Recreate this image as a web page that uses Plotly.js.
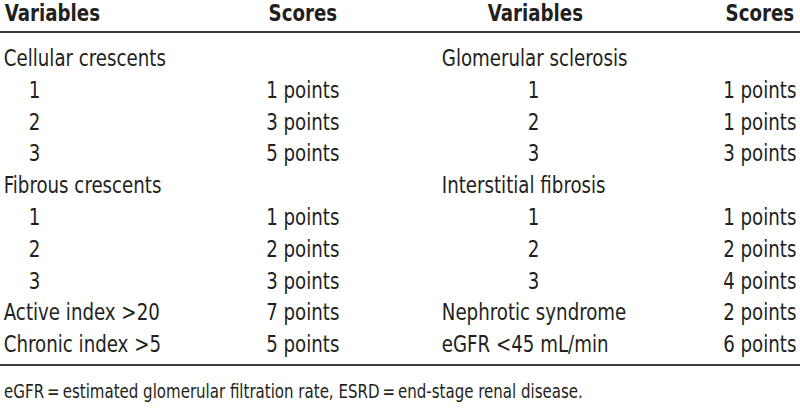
<!DOCTYPE html>
<html><head><meta charset="utf-8">
<script src="https://cdn.plot.ly/plotly-3.0.1.min.js"></script>
<style>html,body{margin:0;padding:0;background:#fff}#chart{width:800px;height:414px}</style>
</head><body><div id="chart"></div>
<script>
const headers = ["Variables", "Scores", "Variables", "Scores"];
const leftVariables = ["Cellular crescents", "1", "2", "3", "Fibrous crescents", "1", "2", "3", "Active index >20", "Chronic index >5"];
const leftScores = ["", "1 points", "3 points", "5 points", "", "1 points", "2 points", "3 points", "7 points", "5 points"];
const rightVariables = ["Glomerular sclerosis", "1", "2", "3", "Interstitial fibrosis", "1", "2", "3", "Nephrotic syndrome", "eGFR <45 mL/min"];
const rightScores = ["", "1 points", "1 points", "3 points", "", "1 points", "2 points", "4 points", "2 points", "6 points"];
const footnote = "eGFR\u2009=\u2009estimated glomerular filtration rate, ESRD\u2009=\u2009end-stage renal disease.";

const FONT = "DejaVu Sans Condensed, Liberation Sans Narrow, sans-serif";
const fs = 23;
const SX = 0.88;
const rowY = i => 58 + i * 31.8;
const isSub = s => /^[0-9]$/.test(s);

const ann = [];
function txt(x, y, t, anchor, bold, size) {
  ann.push({x: x, y: y, xref: 'x', yref: 'y', text: bold ? '<b>' + t + '</b>' : t,
    showarrow: false, xanchor: anchor, yanchor: 'middle',
    font: {family: FONT, size: size || fs, color: '#231f20'}});
}
txt(3, 13, headers[0], 'left', true);
txt(339, 13, headers[1], 'right', true);
txt(486, 13, headers[2], 'left', true);
txt(796, 13, headers[3], 'right', true);

leftVariables.forEach((v, i) => {
  txt(isSub(v) ? 27 : 2, rowY(i), v, 'left');
  if (leftScores[i]) txt(341, rowY(i), leftScores[i], 'right');
});
rightVariables.forEach((v, i) => {
  txt(isSub(v) ? 526 : 440, rowY(i), v, 'left');
  if (rightScores[i]) txt(798, rowY(i), rightScores[i], 'right');
});
txt(2, 391, footnote, 'left', false, 19);

const shapes = [32, 365].map(y => ({type: 'line', xref: 'x', yref: 'y', x0: 0, x1: 800, y0: y, y1: y,
  line: {color: '#3a3a3a', width: 2}}));

Plotly.newPlot('chart', [], {
  width: 800, height: 414,
  margin: {l: 0, r: 0, t: 0, b: 0},
  paper_bgcolor: '#fff', plot_bgcolor: '#fff',
  xaxis: {range: [0, 800], visible: false, fixedrange: true},
  yaxis: {range: [414, 0], visible: false, fixedrange: true},
  annotations: ann, shapes: shapes, showlegend: false
}, {staticPlot: true, displayModeBar: false}).then(gd => {
  // narrow the glyphs horizontally around each annotation's anchor point
  const xa = gd._fullLayout.xaxis;
  gd.querySelectorAll('g.annotation').forEach(g => {
    const idx = +g.getAttribute('data-index');
    const a = ann[idx];
    if (!a) return;
    const px = xa._offset + xa.l2p(a.x);
    g.setAttribute('transform', `translate(${px},0) scale(${SX},1) translate(${-px},0)`);
  });
});
</script></body></html>
